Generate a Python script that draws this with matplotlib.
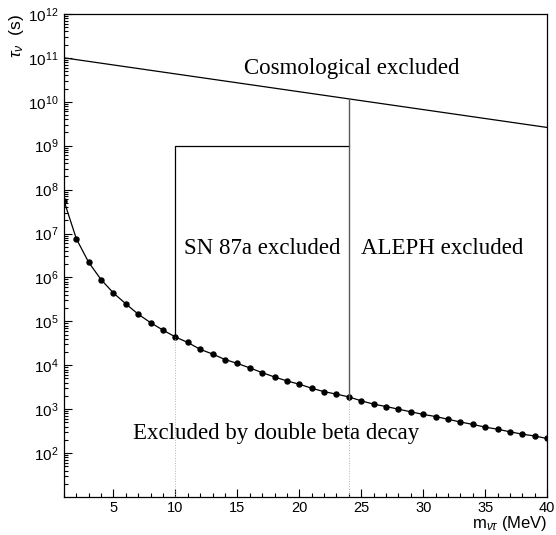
import matplotlib
matplotlib.use('Agg')
import matplotlib.pyplot as plt
from matplotlib.ticker import LogLocator, MultipleLocator, FixedLocator, LogFormatterMathtext, NullFormatter

plt.rcParams['font.family'] = ['Liberation Sans', 'DejaVu Sans']
plt.rcParams['mathtext.fontset'] = 'custom'
plt.rcParams['mathtext.rm'] = 'Liberation Sans'
plt.rcParams['mathtext.it'] = 'Liberation Sans:italic'

# double beta decay bound
mass = list(range(1, 41))
tau_bb = [5.6e7, 7.6e6, 2.2e6, 8.9e5, 4.4e5, 2.5e5, 1.45e5, 9.3e4, 6.3e4, 4.4e4,
          3.3e4, 2.3e4, 1.8e4, 1.35e4, 1.1e4, 8.7e3, 6.8e3, 5.4e3, 4.4e3, 3.7e3,
          3.0e3, 2.5e3, 2.2e3, 1.9e3, 1.55e3, 1.3e3, 1.15e3, 1.0e3, 870, 760,
          680, 590, 510, 450, 390, 350, 305, 270, 245, 215]

# cosmological bound (straight line on the log plot)
cosmo_m = [1, 40]
cosmo_tau = [1e11, 2.6e9]

# SN 87a box
sn_m = [10, 10, 24]
sn_tau = [4.4e4, 1e9, 1e9]

# ALEPH edge
aleph_m = [24, 24]
aleph_tau = [1.9e3, 1.17e10]

fig = plt.figure(figsize=(5.56, 5.35), dpi=100)
ax = fig.add_axes([0.115, 0.071, 0.869, 0.903])

ax.plot(mass, tau_bb, color='black', lw=0.9, marker='o', ms=3.6)
ax.plot(cosmo_m, cosmo_tau, color='black', lw=0.9)
ax.plot(sn_m, sn_tau, color='black', lw=0.9)
ax.plot(aleph_m, aleph_tau, color='0.35', lw=1.0)

# dotted guides under the curve
ax.plot([10, 10], [10, 4.4e4], color='0.7', lw=0.7, ls=':')
ax.plot([24, 24], [10, 1.9e3], color='0.7', lw=0.7, ls=':')

ax.set_yscale('log')
ax.set_xlim(1, 40)
ax.set_ylim(10, 1e12)

tfont = dict(family='Liberation Serif', fontsize=16.5, ha='center', va='center')
ax.text(24.25, 10**10.75, 'Cosmological excluded', **tfont)
ax.text(17.0, 10**6.66, 'SN 87a excluded', **tfont)
ax.text(31.5, 10**6.66, 'ALEPH excluded', **tfont)
ax.text(18.1, 10**2.45, 'Excluded by double beta decay', **tfont)

ax.xaxis.set_major_locator(MultipleLocator(5))
ax.xaxis.set_minor_locator(MultipleLocator(1))
ax.yaxis.set_major_locator(FixedLocator([10.0**k for k in range(2, 13)]))
ax.yaxis.set_major_formatter(LogFormatterMathtext())
ax.yaxis.set_minor_locator(LogLocator(base=10, subs=range(2, 10), numticks=20))
ax.yaxis.set_minor_formatter(NullFormatter())

ax.tick_params(which='both', direction='in', top=False, right=False)
ax.tick_params(axis='y', labelsize=11, pad=4)
ax.tick_params(axis='x', labelsize=10.5, pad=3)
ax.tick_params(which='major', length=6, width=0.8)
ax.tick_params(which='minor', length=3, width=0.8)

for s in ax.spines.values():
    s.set_linewidth(0.9)

ax.set_xlabel(r'm$_{\nu\tau}$ (MeV)', loc='right', fontsize=12)
ax.xaxis.set_label_coords(1.0, -0.036)
ax.set_ylabel(r'$\tau_\nu$  (s)', loc='top', fontsize=12.5)
ax.yaxis.set_label_coords(-0.079, 1.0)

fig.savefig('out.png', dpi=100)
